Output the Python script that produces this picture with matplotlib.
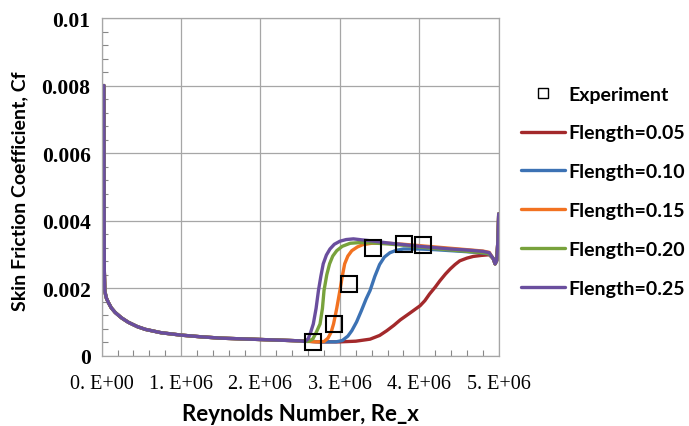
import numpy as np
import matplotlib.pyplot as plt
from matplotlib.lines import Line2D

# laminar part, shared by all runs (Re in millions, Cf)
lam_x = [0.028, 0.030, 0.033, 0.04, 0.06, 0.083, 0.12, 0.17, 0.25, 0.335,
         0.45, 0.55, 0.75, 1.0, 1.25, 1.5, 1.75, 2.0, 2.25, 2.5]
lam_y = [0.0080, 0.0050, 0.0025, 0.0019, 0.00170, 0.00158, 0.00142,
         0.00128, 0.00112, 0.00099, 0.00086, 0.00078, 0.00068, 0.00061,
         0.00056, 0.00052, 0.00050, 0.00048, 0.00046, 0.00044]

# trailing edge dip and spike, shared
end_x = [4.93, 4.955, 4.975, 4.99, 5.0]
end_y = [0.00288, 0.00272, 0.00282, 0.0034, 0.0042]

f05_x = [2.75, 3.0, 3.2, 3.38, 3.5, 3.59, 3.68, 3.76, 3.88, 4.01, 4.07, 4.13,
         4.20, 4.26, 4.33, 4.39, 4.45, 4.51, 4.6, 4.68, 4.78, 4.88]
f05_y = [0.00041, 0.00041, 0.00043, 0.00049, 0.00060, 0.00074, 0.00090,
         0.00106, 0.00126, 0.00148, 0.00163, 0.00183, 0.00203, 0.00222,
         0.00242, 0.00257, 0.00270, 0.00281, 0.00289, 0.00294, 0.00297, 0.00299]

f10_x = [2.75, 2.95, 3.03, 3.10, 3.15, 3.21, 3.27, 3.33, 3.38, 3.44, 3.50,
         3.56, 3.63, 3.71, 3.80, 4.0, 4.2, 4.4, 4.6, 4.8, 4.88]
f10_y = [0.00041, 0.00041, 0.00045, 0.00058, 0.00074, 0.00100, 0.00133,
         0.00168, 0.00193, 0.00235, 0.00270, 0.00292, 0.00305, 0.00312,
         0.00316, 0.00316, 0.00314, 0.00311, 0.00308, 0.00304, 0.00301]

f15_x = [2.7, 2.80, 2.85, 2.89, 2.92, 2.96, 3.0, 3.03, 3.06, 3.10, 3.15,
         3.22, 3.29, 3.4, 3.6, 3.8, 4.0, 4.2, 4.4, 4.6, 4.8, 4.88]
f15_y = [0.00041, 0.00042, 0.00052, 0.00070, 0.00094, 0.00140, 0.00193,
         0.00235, 0.00272, 0.00295, 0.00311, 0.00322, 0.00329, 0.00333,
         0.00333, 0.00330, 0.00326, 0.00322, 0.00318, 0.00314, 0.00310, 0.00306]

f20_x = [2.6, 2.66, 2.70, 2.75, 2.78, 2.80, 2.835, 2.87, 2.91, 2.96, 3.03,
         3.13, 3.25, 3.4, 3.6, 3.8, 4.0, 4.2, 4.4, 4.6, 4.8, 4.88]
f20_y = [0.00042, 0.00050, 0.00068, 0.00094, 0.00140, 0.00193, 0.00240,
         0.00272, 0.00295, 0.00311, 0.00324, 0.00333, 0.00335, 0.00334,
         0.00331, 0.00327, 0.00322, 0.00317, 0.00313, 0.00309, 0.00305, 0.00302]

f25_x = [2.56, 2.60, 2.63, 2.665, 2.70, 2.73, 2.76, 2.79, 2.83, 2.875, 2.93,
         3.0, 3.08, 3.17, 3.28, 3.4, 3.6, 3.8, 4.0, 4.2, 4.4, 4.6, 4.8, 4.88]
f25_y = [0.00042, 0.00050, 0.00068, 0.00094, 0.00140, 0.00193, 0.00235,
         0.00272, 0.00298, 0.00316, 0.00330, 0.00339, 0.00344, 0.00346,
         0.00343, 0.00340, 0.00334, 0.00329, 0.00324, 0.00320, 0.00316,
         0.00313, 0.00309, 0.00305]

exp_x = [2.665, 2.926, 3.11, 3.42, 3.81, 4.05]
exp_y = [0.00041, 0.00094, 0.00212, 0.00318, 0.00331, 0.00327]

labels = ['Flength=0.05', 'Flength=0.10', 'Flength=0.15', 'Flength=0.20', 'Flength=0.25']
colors = ['#A3292B', '#3C72B4', '#F27221', '#78A23C', '#6A4E9E']
runs = [(f05_x, f05_y), (f10_x, f10_y), (f15_x, f15_y), (f20_x, f20_y), (f25_x, f25_y)]

xticks = [0, 1, 2, 3, 4, 5]
xticklabels = ['0. E+00', '1. E+06', '2. E+06', '3. E+06', '4. E+06', '5. E+06']
yticks = [0, 0.002, 0.004, 0.006, 0.008, 0.01]
yticklabels = ['0', '0.002', '0.004', '0.006', '0.008', '0.01']

fig = plt.figure(figsize=(6.89, 4.27), dpi=100)
ax = fig.add_axes([0.1476, 0.1646, 0.5762, 0.7909])

handles = []
for (rx, ry), c, lab in zip(runs, colors, labels):
    x = np.array(lam_x + rx + end_x) * 1e6
    y = np.array(lam_y + ry + end_y)
    ln, = ax.plot(x, y, color=c, lw=2.4, solid_capstyle='round', label=lab)
    handles.append(ln)

ax.plot(np.array(exp_x) * 1e6, exp_y, ls='none', marker='s', ms=11,
        mfc='none', mec='black', mew=1.5, zorder=5)

ax.set_xlim(0, 5e6)
ax.set_ylim(0, 0.01)
ax.set_xticks([v * 1e6 for v in xticks])
ax.set_xticklabels(xticklabels, family='Liberation Serif', fontsize=14.5)
ax.set_yticks(yticks)
ax.set_yticklabels(yticklabels, family='Liberation Serif', fontsize=15.5, weight='bold')
ax.set_xticks(np.arange(0, 5.01e6, 0.2e6), minor=True)
ax.set_yticks(np.arange(0, 0.01001, 0.0004), minor=True)
ax.tick_params(which='major', length=0)
ax.tick_params(axis='y', which='major', pad=8)
ax.tick_params(axis='x', which='major', pad=13)
ax.tick_params(which='minor', direction='in', length=4, color='#888888', width=0.8)
ax.grid(True, which='major', color='#A6A6A6', lw=0.9)
for s in ax.spines.values():
    s.set_color('#A6A6A6')
    s.set_linewidth(0.9)

ax.set_xlabel('Reynolds Number, Re_x', family='Lato', weight='bold', fontsize=16)
ax.set_ylabel('Skin Friction Coefficient, Cf', family='Lato', weight='bold', fontsize=14)
ax.xaxis.set_label_coords(0.5, -0.14)
ax.yaxis.set_label_coords(-0.185, 0.49)

exp_handle = Line2D([], [], ls='none', marker='s', ms=7, mfc='none', mec='black', mew=1.0)
leg = fig.legend([exp_handle] + handles, ['Experiment'] + labels,
                 loc='upper left', bbox_to_anchor=(521 / 689, 0.797), frameon=False,
                 borderpad=0, borderaxespad=0,
                 handlelength=2.27, handletextpad=0.17, labelspacing=1.12,
                 prop={'family': 'Lato', 'weight': 'bold', 'size': 14})

fig.savefig('out.png', dpi=100)
